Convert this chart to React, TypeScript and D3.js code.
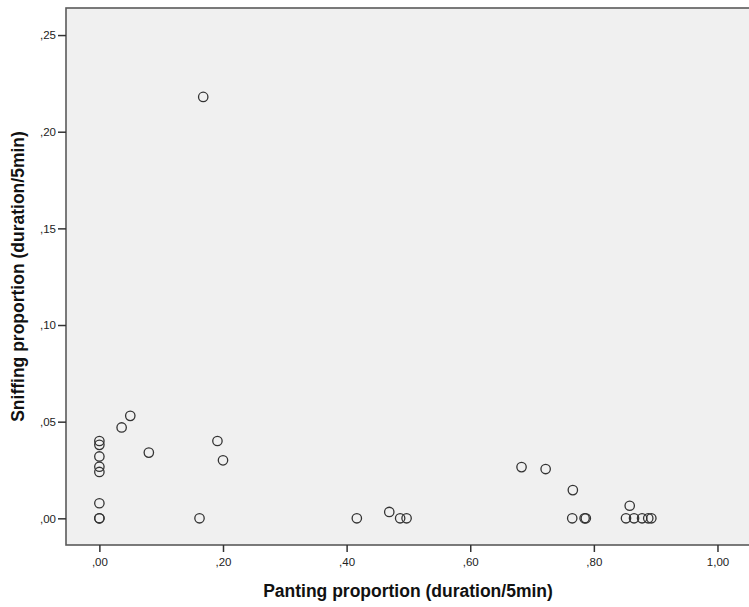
import { useEffect, useRef } from "react";
import * as d3 from "d3";

// Panting (x) and sniffing (y) proportions
const panting = [
  0, 0, 0, 0, 0, 0, 0, 0,
  0.036, 0.05, 0.08, 0.191, 0.2, 0.162, 0.168,
  0.4165, 0.469, 0.4866, 0.497,
  0.683, 0.722, 0.766, 0.765, 0.785, 0.787,
  0.858, 0.852, 0.865, 0.878, 0.888, 0.893,
];
const sniffing = [
  0.04, 0.038, 0.032, 0.0267, 0.024, 0.0078, 0, 0,
  0.047, 0.053, 0.034, 0.04, 0.03, 0, 0.218,
  0, 0.0033, 0, 0,
  0.0265, 0.0255, 0.0146, 0, 0, 0,
  0.0065, 0, 0, 0, 0, 0,
];
const xTicks = [0, 0.2, 0.4, 0.6, 0.8, 1.0];
const yTicks = [0, 0.05, 0.1, 0.15, 0.2, 0.25];

const fmt = (v: number) => d3.format(".2f")(v).replace(/^0\./, ".").replace(".", ",");

export default function App() {
  const svgRef = useRef<SVGSVGElement>(null);

  useEffect(() => {
    if (!svgRef.current) return;
    const width = 749;
    const height = 607;
    const margin = { top: 8, right: 0, bottom: 62, left: 66 };
    const innerWidth = width - margin.left - margin.right;
    const innerHeight = height - margin.top - margin.bottom;
    const font = "'Liberation Sans', Arial, sans-serif";

    const svg = d3.select(svgRef.current).attr("width", width).attr("height", height);
    svg.selectAll("*").remove();

    const g = svg.append("g").attr("transform", `translate(${margin.left},${margin.top})`);

    const x = d3.scaleLinear().domain([-0.054, 1.051]).range([0, innerWidth]);
    const y = d3.scaleLinear().domain([-0.0138, 0.264]).range([innerHeight, 0]);

    g.append("rect")
      .attr("width", innerWidth + 4)
      .attr("height", innerHeight)
      .attr("fill", "#f0f0f0")
      .attr("stroke", "#5a5a5a")
      .attr("stroke-width", 1.6);

    // X axis
    const xa = g
      .append("g")
      .attr("transform", `translate(0,${innerHeight})`)
      .call(d3.axisBottom(x).tickValues(xTicks).tickSize(7).tickSizeOuter(0).tickFormat((d) => fmt(d as number)));
    xa.select(".domain").remove();
    xa.selectAll("line").attr("stroke", "#333").attr("stroke-width", 1.5);
    xa.selectAll("text")
      .attr("fill", "#222")
      .attr("y", 10)
      .attr("dy", "0.95em")
      .style("font-family", font)
      .style("font-size", "11.5px");

    // Y axis
    const ya = g
      .append("g")
      .call(d3.axisLeft(y).tickValues(yTicks).tickSize(8).tickSizeOuter(0).tickFormat((d) => fmt(d as number)));
    ya.select(".domain").remove();
    ya.selectAll("line").attr("stroke", "#333").attr("stroke-width", 1.5);
    ya.selectAll("text")
      .attr("fill", "#222")
      .attr("x", -10)
      .style("font-family", font)
      .style("font-size", "11.5px");

    // Points
    g.selectAll(".pt")
      .data(panting.map((p, i) => [p, sniffing[i]]))
      .join("circle")
      .attr("class", "pt")
      .attr("cx", (d) => x(d[0]))
      .attr("cy", (d) => y(d[1]))
      .attr("r", 4.7)
      .attr("fill", "none")
      .attr("stroke", "#333")
      .attr("stroke-width", 1.3);

    // Axis titles
    svg.append("text")
      .attr("x", 408)
      .attr("y", 597)
      .attr("text-anchor", "middle")
      .attr("fill", "#111")
      .style("font-family", font)
      .style("font-size", "17.5px")
      .style("font-weight", "bold")
      .text("Panting proportion (duration/5min)");

    svg.append("text")
      .attr("transform", `translate(24,${margin.top + innerHeight / 2}) rotate(-90)`)
      .attr("text-anchor", "middle")
      .attr("fill", "#111")
      .style("font-family", font)
      .style("font-size", "17.5px")
      .style("font-weight", "bold")
      .text("Sniffing proportion (duration/5min)");
  }, []);

  return <svg ref={svgRef} style={{ position: "absolute", left: 0, top: 0, background: "#fff" }} />;
}
